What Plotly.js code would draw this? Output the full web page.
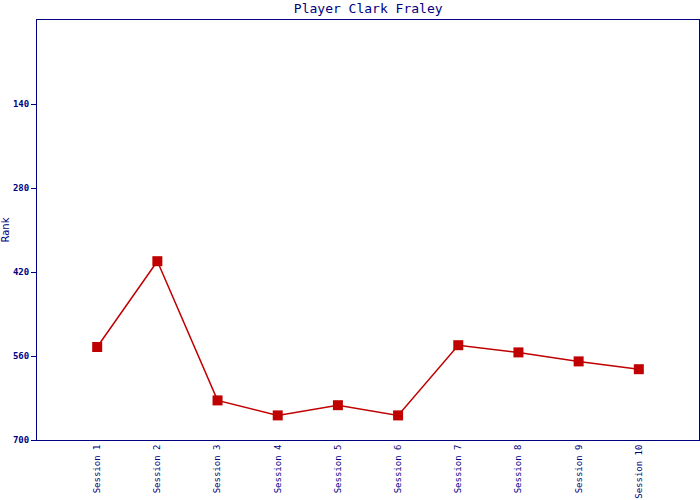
<!DOCTYPE html>
<html>
<head>
<meta charset="utf-8">
<script src="https://cdn.plot.ly/plotly-3.0.1.min.js"></script>
<style>html,body{margin:0;padding:0;background:#fff;}#chart{width:700px;height:500px;}</style>
</head>
<body>
<div id="chart"></div>
<script>
var sessions = ["Session 1","Session 2","Session 3","Session 4","Session 5","Session 6","Session 7","Session 8","Session 9","Session 10"];
var ranks = [545, 402, 634, 659, 642, 659, 542, 554, 569, 582];
var yTicks = [140, 280, 420, 560, 700];
var yTickText = ["140", "280", "420", "560", "700"];

var navy = "#000080";
var trace = {
  x: sessions,
  y: ranks,
  type: "scatter",
  mode: "lines+markers",
  line: {color: "#C00000", width: 1.5},
  marker: {symbol: "square", size: 10, color: "#C00000"},
  hoverinfo: "x+y"
};
var layout = {
  width: 700, height: 500,
  margin: {l: 37, r: 1, t: 20, b: 60, pad: 0},
  paper_bgcolor: "#fff", plot_bgcolor: "#fff",
  showlegend: false,
  title: {text: "Player Clark Fraley", x: 0.526, xanchor: "center", y: 0.984, yanchor: "middle",
          font: {family: "DejaVu Sans Mono", size: 13, color: navy}},
  xaxis: {
    type: "category", range: [-1, 10], showgrid: false, zeroline: false,
    showline: true, linecolor: navy, linewidth: 1, mirror: true,
    ticks: "", tickangle: -90, tickfont: {family: "DejaVu Sans Mono", size: 9, color: navy},
    fixedrange: true
  },
  yaxis: {
    range: [700, 0], showgrid: false, zeroline: false,
    showline: true, linecolor: navy, linewidth: 1, mirror: true,
    tickmode: "array", tickvals: yTicks, ticktext: yTickText,
    ticks: "outside", ticklen: 5, tickcolor: navy,
    tickfont: {family: "DejaVu Sans Mono", size: 9, color: navy, weight: "bold"},
    title: {text: "Rank", standoff: 6, font: {family: "DejaVu Sans", size: 10, color: navy}},
    fixedrange: true
  }
};
Plotly.newPlot("chart", [trace], layout, {displayModeBar: false, staticPlot: true});
</script>
</body>
</html>
